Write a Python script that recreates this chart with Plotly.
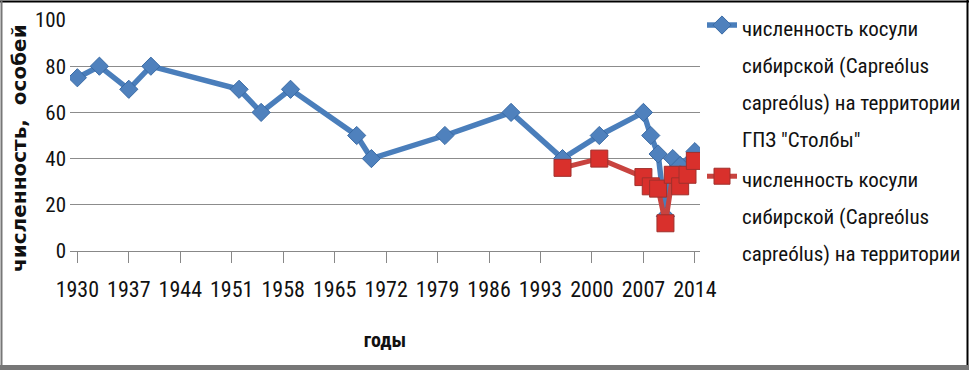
import plotly.graph_objects as go

# ---- data ----
blue_years = [1930, 1933, 1937, 1940, 1952, 1955, 1959, 1968, 1970, 1980, 1989,
              1996, 2001, 2007, 2008, 2009, 2010, 2011, 2012, 2014]
blue_vals = [75, 80, 70, 80, 70, 60, 70, 50, 40, 50, 60,
             40, 50, 60, 50, 42, 15, 40, 37, 43]
red_years = [1996, 2001, 2007, 2008, 2009, 2010, 2011, 2012, 2013, 2014]
red_vals = [36, 40, 32, 28, 27, 12, 33, 28, 33, 39]
x_ticks = [1930, 1937, 1944, 1951, 1958, 1965, 1972, 1979, 1986, 1993, 2000, 2007, 2014]
y_ticks = [0, 20, 40, 60, 80, 100]

blue_name = "численность косули<br>сибирской (Capreólus<br>capreólus) на территории<br>ГПЗ \"Столбы\""
red_name = "численность косули<br>сибирской (Capreólus<br>capreólus) на территории"
y_title = "численность,  особей"
x_title = "годы"

NARROW = "Liberation Sans Narrow, Arial Narrow, Roboto Condensed, sans-serif"

def styled(name, size):
    return "<br>".join(f"<span style='font-size:{size}px'>{ln}</span>" for ln in name.split("<br>"))

fig = go.Figure()
fig.add_trace(go.Scatter(
    x=blue_years, y=blue_vals, mode="lines+markers", name=styled(blue_name, 21),
    line=dict(color="#4A7EBB", width=5.5),
    marker=dict(symbol="diamond", size=14, color="#4F81BD", line=dict(color="#3A6BA5", width=1)),
))
fig.add_trace(go.Scatter(
    x=red_years, y=red_vals, mode="lines+markers", name=styled(red_name, 21),
    line=dict(color="#C8433F", width=5),
    marker=dict(symbol="square", size=17, color="#D9302C", line=dict(color="#A0302C", width=1)),
))

L, R, T, B = 70, 269, 20, 119
W, H = 969, 370
pw, ph = W - L - R, H - T - B

fig.update_layout(
    width=W, height=H,
    margin=dict(l=L, r=R, t=T, b=B, autoexpand=False),
    paper_bgcolor="white", plot_bgcolor="white",
    font=dict(family=NARROW, color="#111111"),
    showlegend=True,
    legend=dict(
        x=(702 - L) / pw, xanchor="left",
        yref="container", y=1.0, yanchor="top",
        valign="top", maxheight=1,
        font=dict(family=NARROW, size=28.5, color="#111111"),
        bgcolor="rgba(0,0,0,0)", tracegroupgap=0,
    ),
    xaxis=dict(
        range=[1929.0, 2014.7], tickmode="array", tickvals=x_ticks,
        ticktext=[str(v) for v in x_ticks],
        showgrid=False, zeroline=False,
        showline=True, linecolor="#888888", linewidth=1,
        ticks="outside", ticklen=11, tickcolor="#888888",
        ticklabelstandoff=8,
        tickfont=dict(family=NARROW, size=22, color="#111111"),
        title=dict(text=f"<b>{x_title}</b>", font=dict(family=NARROW, size=20, color="#111111"), standoff=31),
    ),
    yaxis=dict(
        range=[0, 100], tickmode="array", tickvals=y_ticks,
        showgrid=True, gridcolor="#8C8C8C", gridwidth=1,
        zeroline=False, showline=False, ticks="",
        tickfont=dict(family=NARROW, size=21, color="#111111"),
        ticklabelstandoff=3,
    ),
)

fig.add_annotation(
    text=f"<b>{y_title}</b>", textangle=-90, showarrow=False,
    xref="paper", yref="paper", x=(19 - L) / pw, y=(H - B - 148) / ph,
    xanchor="center", yanchor="middle",
    font=dict(family="DejaVu Sans", size=20, color="#111111"),
)

# outer frame of the picture
x0p, x1p = -L / pw, (W - L) / pw
y0p = -B / ph
ytop = (ph + T) / ph
fig.add_shape(type="line", xref="paper", yref="paper", x0=x0p, x1=x1p, y0=(ph + T - 1.5) / ph, y1=(ph + T - 1.5) / ph,
              line=dict(color="#000000", width=2))
fig.add_shape(type="line", xref="paper", yref="paper", x0=(W - L - 1.5) / pw, x1=(W - L - 1.5) / pw, y0=y0p, y1=ytop,
              line=dict(color="#000000", width=2))
fig.add_shape(type="line", xref="paper", yref="paper", x0=(1.5 - L) / pw, x1=(1.5 - L) / pw, y0=y0p, y1=ytop,
              line=dict(color="#777777", width=2))
fig.add_shape(type="line", xref="paper", yref="paper", x0=x0p, x1=x1p, y0=(-B + 2.5) / ph, y1=(-B + 2.5) / ph,
              line=dict(color="#777777", width=5))

fig.write_html("out.html", config={"displayModeBar": False},
               post_script="document.body.style.margin='0';document.body.style.overflow='hidden';")
